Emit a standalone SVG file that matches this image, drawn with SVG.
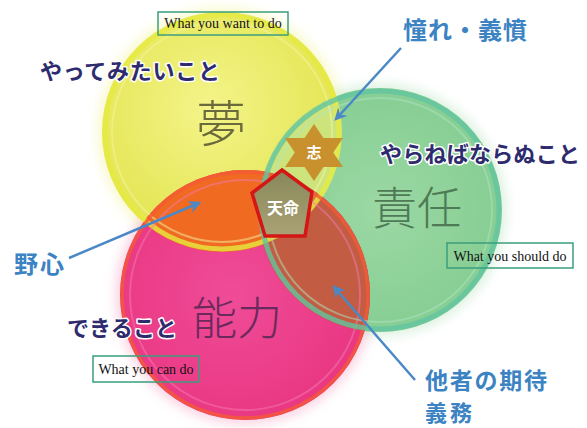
<svg xmlns="http://www.w3.org/2000/svg" width="587" height="428" viewBox="0 0 587 428">
<defs>
<style>
.jp{font-family:"Noto Sans CJK JP","Noto Sans CJK SC",sans-serif;}
.lab{font-weight:700;fill:#2d2b6e;stroke:#ffffff;stroke-width:3;paint-order:stroke;stroke-linejoin:round;}
.blue{font-weight:700;fill:#3c83c3;stroke:#ffffff;stroke-width:2;paint-order:stroke;}
.big{font-weight:300;}
.en{font-family:"Liberation Serif",serif;fill:#111;font-size:14px;}
.box{fill:none;stroke:#3a9f7c;stroke-width:1.5;}
.arrow{stroke:#4a88c6;stroke-width:2.5;fill:none;marker-end:url(#ah);}
</style>
<marker id="ah" viewBox="0 0 10 10" refX="8" refY="5" markerWidth="5" markerHeight="5" orient="auto" markerUnits="strokeWidth">
<path d="M0,0 L10,5 L0,10 L3,5 Z" fill="#4a88c6"/>
</marker>
<filter id="glow" x="-20%" y="-20%" width="140%" height="140%"><feGaussianBlur stdDeviation="6"/></filter>
<radialGradient id="gY" cx="0.45" cy="0.4" r="0.6"><stop offset="0" stop-color="#f4f48a"/><stop offset="1" stop-color="#e2e44e"/></radialGradient>
<radialGradient id="gP" cx="0.45" cy="0.5" r="0.6"><stop offset="0" stop-color="#ef4c98"/><stop offset="1" stop-color="#e9347f"/></radialGradient>
<radialGradient id="gG" cx="0.5" cy="0.5" r="0.6"><stop offset="0" stop-color="#9cd8a4"/><stop offset="1" stop-color="#82cc90"/></radialGradient>
<linearGradient id="gPent" x1="0" y1="0" x2="0" y2="1"><stop offset="0" stop-color="#88875a"/><stop offset="1" stop-color="#a9a274"/></linearGradient>
<clipPath id="cY"><circle cx="222" cy="132" r="120"/></clipPath>
<clipPath id="cP"><circle cx="245" cy="295" r="125"/></clipPath>
</defs>
<rect width="587" height="428" fill="#ffffff"/>
<g id="circles">
<circle cx="222" cy="132" r="124" fill="#eef07a" opacity="0.4" filter="url(#glow)"/>
<circle cx="245" cy="295" r="129" fill="#f48ab4" opacity="0.4" filter="url(#glow)"/>
<circle cx="380" cy="210" r="126" fill="#a6dcb0" opacity="0.4" filter="url(#glow)"/>
<circle id="yellow" cx="222" cy="132" r="120" fill="url(#gY)"/>
<circle id="green" cx="380" cy="210" r="122" fill="url(#gG)"/>
<circle id="pink" cx="245" cy="295" r="125" fill="url(#gP)"/>
<circle cx="245" cy="295" r="125" fill="#f06a22" clip-path="url(#cY)"/>
<circle cx="380" cy="210" r="122" fill="#cde47c" clip-path="url(#cY)"/>
<circle cx="380" cy="210" r="122" fill="#c25c42" clip-path="url(#cP)"/>
<g clip-path="url(#cY)"><circle cx="380" cy="210" r="122" fill="#d47a3a" clip-path="url(#cP)"/></g>
<circle cx="222" cy="132" r="117" fill="none" stroke="#e6ea40" stroke-width="5" opacity="0.8"/>
<circle cx="222" cy="132" r="110" fill="none" stroke="#f6f6a0" stroke-width="2" opacity="0.5"/>
<circle cx="245" cy="295" r="123" fill="none" stroke="#f45a36" stroke-width="3.5" opacity="0.8"/>
<circle cx="245" cy="295" r="115" fill="none" stroke="#f47ab0" stroke-width="2" opacity="0.5"/>
<circle cx="380" cy="210" r="119" fill="none" stroke="#62c4a0" stroke-width="5" opacity="0.8"/>
<circle cx="380" cy="210" r="112" fill="none" stroke="#b0e4c0" stroke-width="2" opacity="0.5"/>
</g>
<g id="node-yume">
<text class="jp lab" x="40" y="79" font-size="22" textLength="180">やってみたいこと</text>
<text class="jp big" x="221" y="142" font-size="50" fill="#6b6a3c" text-anchor="middle">夢</text>
<rect class="box" x="158" y="12" width="130" height="23"/>
<text class="en" x="223" y="28" text-anchor="middle">What you want to do</text>
</g>
<g id="node-sekinin">
<text class="jp lab" x="380" y="162" font-size="22" textLength="200">やらねばならぬこと</text>
<text class="jp big" x="372" y="225" font-size="45" fill="#4e7a55">責任</text>
<rect class="box" x="447" y="243" width="126" height="25"/>
<text class="en" x="510" y="261" text-anchor="middle">What you should do</text>
</g>
<g id="node-noryoku">
<text class="jp lab" x="67" y="336" font-size="22" textLength="110">できること</text>
<text class="jp big" x="192" y="335" font-size="45" fill="#6b2a5c">能力</text>
<rect class="box" x="93" y="356" width="106" height="26"/>
<text class="en" x="146" y="374" text-anchor="middle">What you can do</text>
</g>
<g id="node-kokorozashi">
<polygon points="314,124 343,167 285,167" fill="#c8912e"/>
<polygon points="314,181 343,138 285,138" fill="#c8912e"/>
<text class="jp" x="314" y="158" font-size="15" font-weight="700" fill="#ffffff" text-anchor="middle">志</text>
</g>
<g id="node-tenmei">
<polygon points="282,170 312,192 305,236 265,236 252,193" fill="url(#gPent)" stroke="#d41616" stroke-width="3.5" stroke-linejoin="miter"/>
<text class="jp" x="283" y="214" font-size="16" font-weight="700" fill="#ffffff" text-anchor="middle">天命</text>
</g>
<g id="node-akogare">
<text class="jp blue" x="403" y="39" font-size="24" textLength="124">憧れ・義憤</text>
</g>
<g id="node-yashin">
<text class="jp blue" x="14" y="273" font-size="24" textLength="50">野心</text>
</g>
<g id="node-kitai">
<text class="jp blue" x="425" y="389" font-size="23" textLength="122">他者の期待</text>
<text class="jp blue" x="425" y="421" font-size="22" textLength="47">義務</text>
</g>
<g id="connectors">
<line class="arrow" x1="401" y1="48" x2="336" y2="119"/>
<line class="arrow" x1="69" y1="258" x2="199" y2="203"/>
<line class="arrow" x1="415" y1="380" x2="334" y2="287"/>
</g>
</svg>
